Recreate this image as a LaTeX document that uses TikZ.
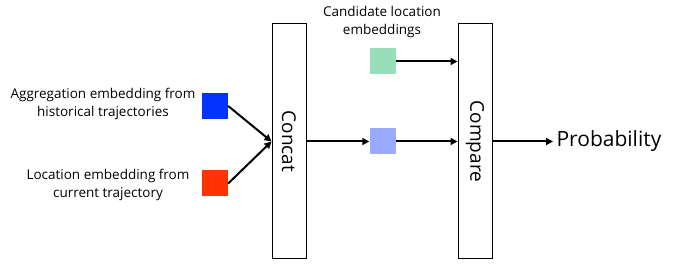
\documentclass[tikz,border=0pt]{standalone}
\usepackage{fontspec}
\setmainfont{Open Sans}
\usepackage{graphicx}
\usetikzlibrary{arrows.meta}

\definecolor{aggblue}{RGB}{0,51,255}
\definecolor{locred}{RGB}{255,51,0}
\definecolor{candgreen}{RGB}{153,222,187}
\definecolor{fusedblue}{RGB}{153,170,255}

\begin{document}
\begin{tikzpicture}[x=1pt, y=-1pt,
  blk/.style={draw, line width=1pt, minimum width=34pt, minimum height=235pt, inner sep=0pt, font=\fontsize{19}{22}\selectfont},
  sq/.style={minimum size=26pt, inner sep=0pt},
  lbl/.style={align=center, font=\fontsize{13.5}{17.5}\selectfont},
  arr/.style={-{Triangle[length=7pt,width=7pt]}, line width=2pt}]
\useasboundingbox (0,0) rectangle (694,272);
\node[blk] (concat) at (289,141.5) {\rotatebox{-90}{Concat}};
\node[blk] (compare) at (475,141.5) {\rotatebox{-90}{Compare}};
\node[sq, fill=aggblue] (agg) at (215,106) {};
\node[sq, fill=locred] (loc) at (215,183.5) {};
\node[sq, fill=candgreen] (cand) at (382.5,61.5) {};
\node[sq, fill=fusedblue] (fused) at (382.5,141.5) {};
\node[lbl] (agglbl) at (103,104) {Aggregation embedding from\\historical trajectories};
\node[lbl] (loclbl) at (108,185) {Location embedding from\\current trajectory};
\node[lbl] (candlbl) at (382,22) {Candidate location\\embeddings};
\node[anchor=west, font=\fontsize{21}{26}\selectfont] (prob) at (553,141.5) {Probability};
\draw[arr] (agg.east) -- (concat.west);
\draw[arr] (loc.east) -- (concat.west);
\draw[arr] (concat.east) -- (fused.west);
\draw[arr] (fused.east) -- (compare.west |- fused.east);
\draw[arr] (cand.east) -- (compare.west |- cand.east);
\draw[arr] (compare.east) -- (prob.west);
\end{tikzpicture}
\end{document}
